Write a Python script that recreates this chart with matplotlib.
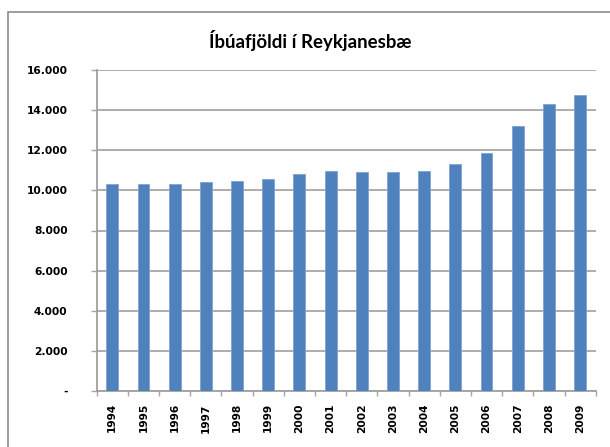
import matplotlib
matplotlib.use("Agg")
import matplotlib.pyplot as plt
from matplotlib.ticker import FuncFormatter, FixedLocator
from matplotlib.patches import Rectangle

years = ["1994", "1995", "1996", "1997", "1998", "1999", "2000", "2001",
         "2002", "2003", "2004", "2005", "2006", "2007", "2008", "2009"]
population = [10335, 10335, 10335, 10400, 10470, 10580, 10830, 10970,
              10900, 10900, 10970, 11330, 11880, 13220, 14300, 14760]
yticks = [0, 2000, 4000, 6000, 8000, 10000, 12000, 14000, 16000]
title = "Íbúafjöldi í Reykjanesbæ"

W, H = 610, 447
L, R, T, B = 96.7, 595.7, 70.3, 390.7
fig = plt.figure(figsize=(W / 100, H / 100), dpi=100)
ax = fig.add_axes([L / W, 1 - B / H, (R - L) / W, (B - T) / H])

x = list(range(len(years)))
ax.bar(x, population, width=0.38, color="#4F81BD", edgecolor="#7FA3D3",
       linewidth=0.6, zorder=3)

ax.set_xlim(-0.5, len(years) - 0.5)
ax.set_ylim(0, 16000)
ax.set_yticks(yticks)
ax.yaxis.set_major_formatter(FuncFormatter(
    lambda v, p: "-" if v == 0 else f"{int(v):,}".replace(",", ".")))
ax.grid(axis="y", color="#A6A6A6", linewidth=1.3, zorder=0)
ax.set_xticks(x)
ax.set_xticklabels(years, rotation=90)
ax.xaxis.set_minor_locator(FixedLocator([i - 0.5 for i in range(len(years) + 1)]))
ax.tick_params(axis="x", which="major", length=0, pad=9)
ax.tick_params(axis="x", which="minor", length=3.5, color="#A6A6A6", width=1)
ax.tick_params(axis="y", length=4, color="#A6A6A6", width=1, pad=17)
for lab in ax.get_xticklabels() + ax.get_yticklabels():
    lab.set_fontfamily("DejaVu Sans")
    lab.set_fontweight("bold")
    lab.set_fontsize(7.7)
for s in ["top", "right"]:
    ax.spines[s].set_visible(False)
for s in ["left", "bottom"]:
    ax.spines[s].set_color("#A0A0A0")
    ax.spines[s].set_linewidth(1.3)

fig.text(310 / W, 1 - 48 / H, title, ha="center", va="baseline",
         fontsize=13.4, fontweight="bold", family="Lato")

fig.patches.append(Rectangle((8 / W, -0.1), 1.2, 1 - 12.3 / H + 0.1,
                             transform=fig.transFigure, fill=False,
                             edgecolor="#8C8C8C", linewidth=1.2))

fig.savefig("out.png", dpi=100)
